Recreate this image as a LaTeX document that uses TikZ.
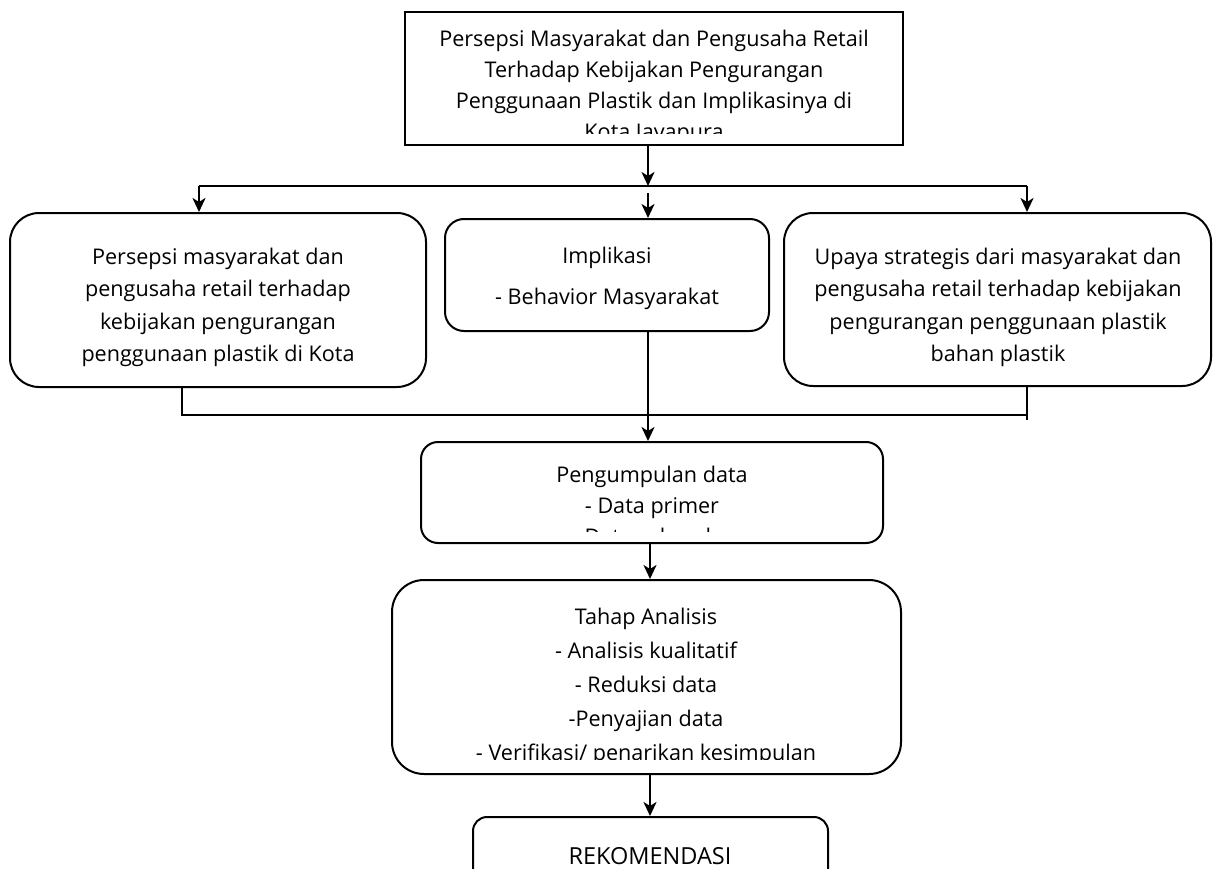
\documentclass[tikz,border=0pt]{standalone}
\usepackage{fontspec}
\setmainfont{Open Sans}
\usetikzlibrary{arrows.meta}
\newcommand{\txtlines}[3]{{\fontsize{#1}{#2}\selectfont\begin{tabular}[t]{@{}c@{}}#3\end{tabular}}}
\tikzset{
  box/.style={draw, line width=2pt, inner sep=0pt},
  arr/.style={-{Stealth[length=14pt,width=13pt,inset=4pt]}, line width=2.4pt},
  ln/.style={line width=2.4pt},
  txt/.style={anchor=base, inner sep=0pt, outer sep=0pt},
}
\begin{document}
\begin{tikzpicture}[x=1pt,y=-1pt]
\useasboundingbox (0,0) rectangle (1214,869);
\fill[white] (0,0) rectangle (1214,869);

% boxes
\node[box, minimum width=498pt, minimum height=133pt] (top) at (654,78.5) {};
\node[box, rounded corners=29pt, minimum width=416pt, minimum height=174pt] (left) at (218,300) {};
\node[box, rounded corners=19pt, minimum width=324pt, minimum height=112pt] (impl) at (607,275) {};
\node[box, rounded corners=29pt, minimum width=427pt, minimum height=173pt] (right) at (997.5,299.5) {};
\node[box, rounded corners=17pt, minimum width=462pt, minimum height=101pt] (data) at (652,492.5) {};
\node[box, rounded corners=32pt, minimum width=509pt, minimum height=194pt] (ana) at (646.5,677) {};
\node[box, rounded corners=14pt, minimum width=355pt, minimum height=80pt] (rek) at (650.5,857) {};

% texts
\begin{scope}
\clip (405,12) rectangle (903,134);
\node[txt] (ttop) at (654,47) {\txtlines{21.6}{31}{Persepsi Masyarakat dan Pengusaha Retail\\Terhadap Kebijakan Pengurangan\\Penggunaan Plastik dan Implikasinya di\\Kota Jayapura}};
\end{scope}
\node[txt] (tleft) at (218,264) {\txtlines{21.6}{32.5}{Persepsi masyarakat dan\\pengusaha retail terhadap\\kebijakan pengurangan\\penggunaan plastik di Kota}};
\node[txt] (timpl) at (607,263) {\txtlines{21.6}{41}{Implikasi\\- Behavior Masyarakat}};
\node[txt] (tright) at (998,264) {\txtlines{21.6}{32.5}{Upaya strategis dari masyarakat dan\\pengusaha retail terhadap kebijakan\\pengurangan penggunaan plastik\\bahan plastik}};
\begin{scope}
\clip (421,442) rectangle (883,531);
\node[txt] (tdata) at (652,482) {\txtlines{21.6}{31}{Pengumpulan data\\- Data primer\\- Data sekunder}};
\end{scope}
\begin{scope}
\clip (392,580) rectangle (901,759);
\node[txt] (tana) at (646,624) {\txtlines{21.6}{34}{Tahap Analisis\\- Analisis kualitatif\\- Reduksi data\\-Penyajian data\\- Verifikasi/ penarikan kesimpulan}};
\end{scope}
\node[txt] (trek) at (650,864) {\txtlines{23.5}{30}{REKOMENDASI}};

% connector coordinates
\coordinate (jL) at (199,186);
\coordinate (jC) at (648,186);
\coordinate (jC2) at (648,193);
\coordinate (jR) at (1027,186);
\coordinate (bL) at (182,415);
\coordinate (bR) at (1027,415);
\coordinate (bR2) at (1027,420);
\coordinate (mX) at (650,0);

% connectors
\draw[arr] (jC |- top.south) -- (jC);
\draw[ln] (jL) -- (jR);
\draw[arr] (jL) -- (jL |- left.north);
\draw[arr] (jR) -- (jR |- right.north);
\draw[arr] (jC2) -- (jC2 |- impl.north);
\draw[ln] (bL |- left.south) -- (bL) -- (bR);
\draw[ln] (bR |- right.south) -- (bR2);
\draw[arr] (jC |- impl.south) -- (jC |- data.north);
\draw[arr] (mX |- data.south) -- (mX |- ana.north);
\draw[arr] (mX |- ana.south) -- (mX |- rek.north);
\end{tikzpicture}
\end{document}
